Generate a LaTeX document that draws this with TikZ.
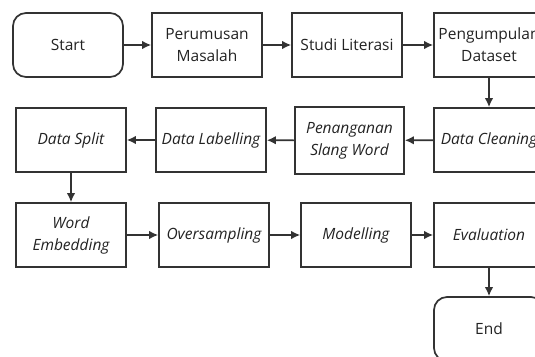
\documentclass[tikz,border=0pt]{standalone}
\usepackage{fontspec}
\setmainfont{Open Sans}
\usetikzlibrary{arrows.meta}
\definecolor{ln}{HTML}{333333}
\definecolor{tx}{HTML}{222222}
\tikzset{
  box/.style={draw=ln, line width=1.7pt, minimum width=110pt, minimum height=64pt, inner sep=0pt, align=center, text=tx, font=\fontsize{15.5}{22}\selectfont},
  ibox/.style={box, font=\fontsize{15.5}{22}\selectfont\itshape},
  term/.style={box, rounded corners=13pt},
  conn/.style={draw=ln, line width=1.6pt, -{Latex[length=9pt,width=8.5pt]}}
}
\begin{document}
\begin{tikzpicture}[x=1pt,y=-1pt]
\useasboundingbox (0,0) rectangle (535,356);
\clip (0,0) rectangle (535,356);
\node[term] (start) at (68,45) {Start};
\node[box] (perum) at (207,45) {Perumusan\\Masalah};
\node[box] (studi) at (347,45) {Studi Literasi};
\node[box] (pengum) at (489,45) {Pengumpulan\\Dataset};
\node[ibox] (clean) at (489,140) {Data Cleaning};
\node[ibox, minimum width=109pt, minimum height=67pt] (slang) at (349.5,140.5) {Penanganan\\Slang Word};
\node[ibox] (label) at (211,140) {Data Labelling};
\node[ibox] (split) at (71,140) {Data Split};
\node[ibox] (embed) at (71,235) {Word\\Embedding};
\node[ibox] (over) at (214,235) {Oversampling};
\node[ibox] (model) at (356,235) {Modelling};
\node[ibox] (eval) at (489,235) {Evaluation};
\node[term] (end) at (489,329) {End};
\draw[conn] (start) -- (perum);
\draw[conn] (perum) -- (studi);
\draw[conn] (studi) -- (pengum);
\draw[conn] (pengum) -- (clean);
\draw[conn] (clean) -- (slang);
\draw[conn] (slang) -- (label);
\draw[conn] (label) -- (split);
\draw[conn] (split) -- (embed);
\draw[conn] (embed) -- (over);
\draw[conn] (over) -- (model);
\draw[conn] (model) -- (eval);
\draw[conn] (eval) -- (end);
\end{tikzpicture}
\end{document}
